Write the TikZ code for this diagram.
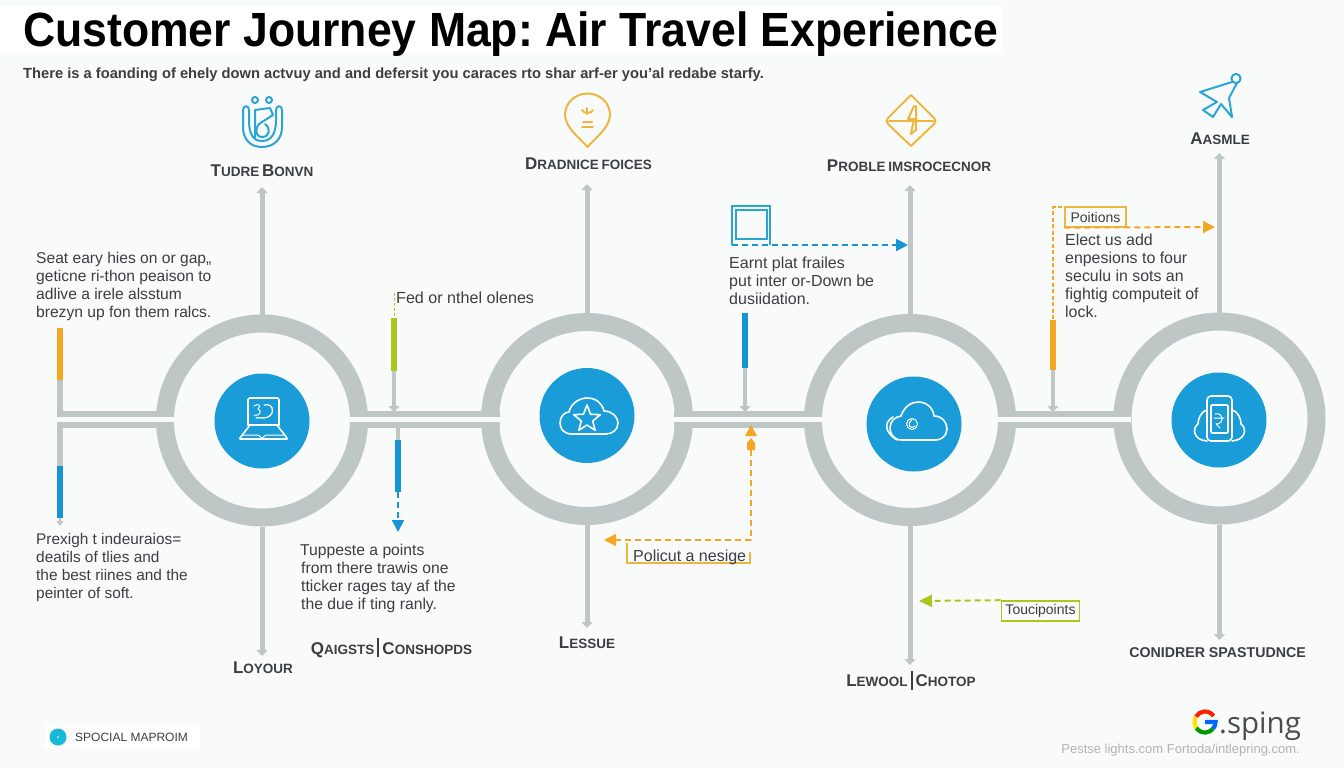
\documentclass[tikz,border=0pt]{standalone}
\usepackage{fontspec}
\usepackage{xcolor}
\setmainfont{Liberation Sans}
\newfontfamily\logofont{Open Sans}
\usetikzlibrary{arrows.meta,calc}
\definecolor{bgc}{HTML}{F9FBFB}
\definecolor{ringc}{HTML}{BFC6C6}
\definecolor{discc}{HTML}{1A9CD8}
\definecolor{bluec}{HTML}{1595D3}
\definecolor{orangec}{HTML}{F5A623}
\definecolor{limec}{HTML}{A8C81E}
\definecolor{inkc}{HTML}{3A3F42}
\definecolor{iconb}{HTML}{2BA5D2}
\definecolor{icony}{HTML}{EDB63F}
\definecolor{dotc}{HTML}{17B8D8}
\newcommand{\smc}[2]{{\fontsize{17}{17}\selectfont #1}{\fontsize{13.5}{17}\selectfont #2}}
\newcommand{\tallbar}{\hspace{3pt}\rule[-3pt]{2pt}{19pt}\hspace{3pt}}
\tikzset{
 ringnode/.style={circle,draw=ringc,line width=18pt,minimum size=194pt,inner sep=0pt},
 discnode/.style={circle,fill=discc,minimum size=95pt,inner sep=0pt},
 stem/.style={draw=ringc,line width=5pt,-{Triangle[width=11pt,length=6pt]}},
 rail/.style={draw=ringc,line width=5.5pt},
 gapline/.style={draw=bgc,line width=6pt},
 bar/.style={line width=6pt},
 dashb/.style={draw=bluec,line width=2pt,dash pattern=on 6pt off 4pt},
 dasho/.style={draw=orangec,line width=2pt,dash pattern=on 6pt off 4pt},
 dashl/.style={draw=limec,line width=2pt,dash pattern=on 6pt off 4pt},
 tipb/.style={-{Triangle[width=12pt,length=12pt,color=bluec]}},
 tipo/.style={-{Triangle[width=12pt,length=12pt,color=orangec]}},
 tipl/.style={-{Triangle[width=12pt,length=13pt,color=limec]}},
 note/.style={anchor=north west,inner sep=0pt,align=left,text=inkc},
 head/.style={inner sep=0pt,text=inkc,font=\bfseries},
 iconw/.style={draw=white,line width=1.6pt,line join=round,line cap=round},
 iconu/.style={draw=iconb,line width=2pt,line join=round,line cap=round},
 icono/.style={draw=icony,line width=2pt,line join=round,line cap=round},
}
\begin{document}
\frenchspacing
\begin{tikzpicture}[x=1pt,y=-1pt]
\useasboundingbox (0,0) rectangle (1344,768);
\fill[bgc] (0,0) rectangle (1344,768);
% title
\fill[white] (0,6) rectangle (1003,55);
\node[anchor=base west,inner sep=0pt,font=\bfseries\fontsize{48}{50}\selectfont,text=black,xscale=0.928] (title) at (23,47) {Customer Journey Map: Air Travel Experience};
\node[anchor=base west,inner sep=0pt,font=\bfseries\fontsize{14.7}{16}\selectfont,text=inkc] (sub) at (23,78) {There is a foanding of ehely down actvuy and and defersit you caraces rto shar arf-er you'al redabe starfy.};
% rings
\node[ringnode] (ring1) at (262,420.5) {};
\node[ringnode] (ring2) at (587,419) {};
\node[ringnode] (ring3) at (910,420) {};
\node[ringnode] (ring4) at (1219.5,418.5) {};
% coordinates of the rails
\coordinate (ula) at (60,380);
\coordinate (ulb) at (60,414);
\coordinate (lla) at (60,466);
\coordinate (llb) at (60,425);
\foreach \n/\a/\b in {a/174/350,b/500/674,c/822/998,d/1131/1131}{
  \coordinate (u\n w) at (\a,414); \coordinate (u\n e) at (\b,414);
  \coordinate (l\n w) at (\a,425);   \coordinate (l\n e) at (\b,425);
}
% gaps through the rings
\draw[gapline] (60,419.5) -- (174,419.5);
\draw[gapline] (350,419.5) -- (500,419.5);
\draw[gapline] (674,419.5) -- (822,419.5);
\draw[gapline] (998,419.5) -- (1131,419.5);
% rails
\draw[rail] (ula) -- (ulb) -- (uaw);
\draw[rail] (lla) -- (llb) -- (law);
\draw[rail] (uae) -- (ubw); \draw[rail] (lae) -- (lbw);
\draw[rail] (ube) -- (ucw); \draw[rail] (lbe) -- (lcw);
\draw[rail] (uce) -- (udw); \draw[rail] (lce) -- (ldw);
% discs
\node[discnode] (disc1) at (262,421) {};
\node[discnode] (disc2) at (587,415.5) {};
\node[discnode] (disc3) at (914,424) {};
\node[discnode] (disc4) at (1219,420) {};
% heads
\node[head] (h1) at (262,171) {\smc{T}{UDRE} \smc{B}{ONVN}};
\node[head] (h2) at (588.5,164) {\smc{D}{RADNICE} \smc{}{FOICES}};
\node[head] (h3) at (909,166) {\smc{P}{ROBLE} \smc{}{IMSROCECNOR}};
\node[head] (h4) at (1220,139) {\smc{A}{ASMLE}};
\node[head] (h5) at (263,668) {\smc{L}{OYOUR}};
\node[head] (h6) at (391.5,648) {\smc{Q}{AIGSTS}\tallbar\smc{C}{ONSHOPDS}};
\node[head] (h7) at (587,643) {\smc{L}{ESSUE}};
\node[head] (h8) at (911,680) {\smc{L}{EWOOL}\tallbar\smc{C}{HOTOP}};
\node[head,font=\bfseries\fontsize{14.2}{17}\selectfont] (h9) at (1217.5,653) {CONIDRER SPASTUDNCE};
% stems
\coordinate (s1u) at (262,187); \coordinate (s2u) at (587,184); \coordinate (s3u) at (910,185); \coordinate (s4u) at (1219.5,153);
\coordinate (s1d) at (262,656); \coordinate (s2d) at (587,628); \coordinate (s3d) at (910,665); \coordinate (s4d) at (1219.5,640);
\draw[stem] (ring1.north) -- (s1u);
\draw[stem] (ring2.north) -- (s2u);
\draw[stem] (ring3.north) -- (s3u);
\draw[stem] (ring4.north) -- (s4u);
\draw[stem] (ring1.south) -- (s1d);
\draw[stem] (ring2.south) -- (s2d);
\draw[stem] (ring3.south) -- (s3d);
\draw[stem] (ring4.south) -- (s4d);
% notes
\node[note,font=\fontsize{15.6}{18}\selectfont] (n1) at (36,252) {Seat eary hies on or gap,,\\geticne ri-thon peaison to\\adlive a irele alsstum\\brezyn up fon them ralcs.};
\node[note,font=\fontsize{15.4}{18}\selectfont] (n2) at (36,533) {Prexigh t indeuraios=\\deatils of tlies and\\the best riines and the\\peinter of soft.};
\node[note,font=\fontsize{15.7}{18}\selectfont] (n3) at (300,544) {Tuppeste a points\\\hspace{1pt}from there trawis one\\\hspace{1pt}tticker rages tay af the\\\hspace{1pt}the due if ting ranly.};
\node[note,font=\fontsize{16.1}{18}\selectfont] (n4) at (396,292) {Fed or nthel olenes};
\node[note,font=\fontsize{16}{18}\selectfont] (n5) at (729,257) {Earnt plat frailes\\put inter or-Down be\\dusiidation.};
\node[note,font=\fontsize{15.9}{18}\selectfont] (n6) at (1065,234) {Elect us add\\enpesions to four\\seculu in sots an\\fightig computeit of\\lock.};
% bars: left
\coordinate (b1a) at (60,328); \draw[bar,orangec] (b1a) -- (ula);
\coordinate (b2b) at (60,518); \draw[bar,bluec] (lla) -- (b2b);
\coordinate (b2c) at (60,526);
\draw[draw=ringc,line width=2pt,-{Triangle[width=7pt,length=5pt]}] (b2b) -- (b2c);
% green bar with the grey arrow into the rail
\coordinate (g0) at (394,293); \coordinate (g1) at (394,318); \coordinate (g2) at (394,371); \coordinate (g3) at (394,412);
\draw[dashl,line width=1pt,dash pattern=on 3pt off 2pt] (g0) -- (g1);
\draw[bar,limec] (g1) -- (g2);
\draw[draw=ringc,line width=4pt,-{Triangle[width=11pt,length=6pt]}] (g2) -- (g3);
% blue bar below the rail
\coordinate (q0) at (398,427); \coordinate (q1) at (398,440); \coordinate (q2) at (398,492); \coordinate (q3) at (398,532);
\draw[draw=ringc,line width=4pt] (q0) -- (q1);
\draw[bar,bluec] (q1) -- (q2);
\draw[dashb,tipb] (q2) -- (q3);
% blue bar 3
\coordinate (c1) at (745,313); \coordinate (c2) at (745,368); \coordinate (c3) at (745,412);
\draw[bar,bluec] (c1) -- (c2);
\draw[draw=ringc,line width=4pt,-{Triangle[width=11pt,length=6pt]}] (c2) -- (c3);
% orange bar 4
\coordinate (d0) at (1053,207); \coordinate (d1) at (1053,320); \coordinate (d2) at (1053,370); \coordinate (d3) at (1053,412);
\draw[dasho,line width=1.2pt,dash pattern=on 4pt off 2.5pt] (1062,207) -- (d0) -- (d1);
\draw[bar,orangec] (d1) -- (d2);
\draw[draw=ringc,line width=4pt,-{Triangle[width=11pt,length=6pt]}] (d2) -- (d3);
% blue square
\draw[draw=iconb,line width=1.4pt] (732,245) -- (732,206) -- (770,206) -- (770,245);
\draw[draw=iconb,line width=1.4pt] (736,239) -- (736,210) -- (767,210) -- (767,239) -- cycle;
\coordinate (e0) at (732,245); \coordinate (e1) at (908,245);
\draw[dashb,tipb] (e0) -- (e1);
% Poitions box
\node[draw=icony,line width=1.2pt,inner sep=0pt,minimum width=61pt,minimum height=20pt,text=inkc,font=\fontsize{14}{15}\selectfont] (pt) at (1095.5,217) {Poitions};
\coordinate (f1) at (1215,227);
\draw[dasho,tipo] (pt.south west) -- (f1);
% Policut box
\coordinate (k0) at (751,450); \coordinate (k1) at (751,540); \coordinate (k2) at (604,540); \coordinate (k3) at (751,436); \coordinate (k4) at (751,425);
\draw[dasho,tipo] (k0) -- (k1) -- (k2);
\draw[fill=orangec,draw=none] (k4) -- (757,436) -- (745,436) -- cycle;
\draw[fill=orangec,draw=none] (751,438) -- (755,443) -- (755,450) -- (747,450) -- (747,443) -- cycle;
\draw[draw=icony,line width=1.2pt] (627,543) -- (627,563) -- (750,563) -- (750,552);
\node[anchor=base west,inner sep=0pt,text=inkc,font=\fontsize{16}{17}\selectfont] (pol) at (633,561) {Policut a nesige};
% Touchpoints
\node[draw=limec,line width=1.6pt,inner sep=0pt,minimum width=78pt,minimum height=20pt,text=inkc,font=\fontsize{14}{15}\selectfont] (tp) at (1040.5,611) {Toucipoints};
\coordinate (m1) at (919,601);
\draw[dashl,tipl] (tp.north west) -- (m1);
% top icons
\draw[iconu] (262,147) .. controls (250,147) and (243,139) .. (243,127) -- (243,110) .. controls (243,105) and (249,105) .. (249,110) -- (249,120);
\draw[iconu] (262,147) .. controls (274,147) and (282,139) .. (282,127) -- (282,110) .. controls (282,105) and (276,105) .. (276,110) -- (276,120);
\draw[iconu] (249,120) .. controls (249,134) and (253,141) .. (262,141) .. controls (271,141) and (276,134) .. (276,120);
\draw[iconu] (255,138) -- (255,110) -- (270,108) -- (273,115) -- (262,122);
\draw[iconu] (262,122) .. controls (254,126) and (255,137) .. (262,137) .. controls (270,137) and (271,128) .. (265,124);
\draw[iconu] (255,100) circle (3pt); \draw[iconu] (269,100) circle (3pt);
\draw[icono] (587.5,147) .. controls (582,140) and (565,128) .. (565,115) .. controls (565,102) and (576,93.5) .. (587.5,93.5) .. controls (599,93.5) and (610,102) .. (610,115) .. controls (610,128) and (593,140) .. (587.5,147) -- cycle;
\draw[icono] (582,110) .. controls (584,114) and (591,114) .. (593,110);
\draw[icono] (587,108) -- (587,114);
\draw[icono] (583,122) -- (592,122);
\draw[icono] (582,127) -- (593,127);
\draw[icono] (911,95) -- (934,118) .. controls (936,120.5) and (936,121.5) .. (934,124) -- (911,146) -- (888,124) .. controls (886,121.5) and (886,120.5) .. (888,118) -- cycle;
\draw[icono] (889,121) -- (933,121);
\draw[icono] (914,106) -- (908,119) -- (914,119) -- (911,134) -- (916,130) -- (916,106);
\draw[iconu] (1236,78.5) circle (4.6pt);
\draw[iconu] (1232,82) -- (1200,92) -- (1217,102) -- (1203,110) -- (1213,117) -- (1221,104) -- (1232,117) -- (1229,98) -- (1237,83);
% disc icons
\draw[iconw,rounded corners=1.5pt] (248,425) -- (248,398) -- (279,398) -- (279,425);
\draw[iconw] (248,425) -- (279,425);
\draw[iconw] (250,425) -- (240,438) -- (240,439) -- (287,439) -- (287,438) -- (277,425);
\draw[iconw,line width=1pt] (243,435) -- (258,435) -- (262,438) -- (266,435) -- (284,435);
\draw[iconw,line width=1pt] (254,406) .. controls (258,403) and (262,405) .. (258,409) .. controls (263,411) and (259,417) .. (254,415);
\draw[iconw,line width=1.3pt] (264,405) .. controls (275,402) and (276,418) .. (263,418) .. controls (259,418) and (258,417) .. (256,418);
\draw[iconw] (572,434) .. controls (563,434) and (560,428) .. (560,423) .. controls (560,416) and (565,412) .. (569,412) .. controls (571,403) and (580,398) .. (587,398) .. controls (596,398) and (602,403) .. (604,411) .. controls (612,411) and (618,417) .. (618,423) .. controls (618,430) and (612,434) .. (606,434) -- cycle;
\draw[iconw,fill=discc] (587,405) -- (590.5,414.2) -- (600.3,414.7) -- (592.7,421) -- (595.2,430.3) -- (587,425) -- (578.8,430.3) -- (581.3,421) -- (573.7,414.7) -- (583.5,414.2) -- cycle;
\draw[iconw] (897,440) .. controls (884,432) and (884,422) .. (893,417);
\draw[iconw] (902,440) .. controls (893,440) and (890,433) .. (890,428) .. controls (890,421) and (895,417) .. (901,416) .. controls (904,407) and (911,402) .. (918,402) .. controls (926,402) and (933,407) .. (934,416) .. controls (942,416) and (947,422) .. (947,429) .. controls (947,436) and (941,440) .. (936,440) -- cycle;
\draw[iconw,line width=1pt] (912,424) circle (5.5pt);
\draw[iconw,line width=1pt] (912,420) .. controls (906,424) and (910,430) .. (915,426);
\draw[iconw,rounded corners=4pt] (1207,396) rectangle (1232,441);
\draw[iconw,rounded corners=1pt] (1211,405) rectangle (1228,433);
\draw[iconw] (1207,410) .. controls (1200,412) and (1198,420) .. (1198,424) .. controls (1192,428) and (1193,440) .. (1207,441);
\draw[iconw] (1232,410) .. controls (1239,412) and (1241,420) .. (1241,424) .. controls (1247,428) and (1246,440) .. (1232,441);
\draw[iconw,line width=1pt] (1214,418) -- (1224,418) (1215,414) .. controls (1224,412) and (1225,424) .. (1216,424) -- (1220,428);
% footer
\fill[white] (45,725) rectangle (200,748);
\node[circle,fill=dotc,minimum size=17pt,inner sep=0pt] (dot) at (58,737) {};
\fill[white] (dot.center) circle (0.8pt);
\node[anchor=base west,inner sep=0pt,text=inkc,font=\fontsize{12}{13}\selectfont] (foot) at (75,741) {SPOCIAL MAPROIM};
% logo
\coordinate (G) at (1205,722);
\draw[line width=4.2pt,draw=red!75!orange] ([shift={(35:10.5pt)}]G) arc (35:150:10.5pt);
\draw[line width=4.2pt,draw=yellow!85!orange] ([shift={(150:10.5pt)}]G) arc (150:215:10.5pt);
\draw[line width=4.2pt,draw=green!60!black] ([shift={(215:10.5pt)}]G) arc (215:320:10.5pt);
\draw[line width=4.2pt,draw=blue!60!cyan] ([shift={(320:10.5pt)}]G) arc (320:360:10.5pt) -- (G);
\node[anchor=base west,inner sep=0pt,text=black!70,font=\logofont\fontsize{29.5}{34}\selectfont] (gs) at (1219,733) {.sping};
\node[anchor=base east,inner sep=0pt,text=black!30,font=\fontsize{13}{15}\selectfont] (gu) at (1300,753) {Pestse lights.com Fortoda/intlepring.com.};
\end{tikzpicture}
\end{document}
